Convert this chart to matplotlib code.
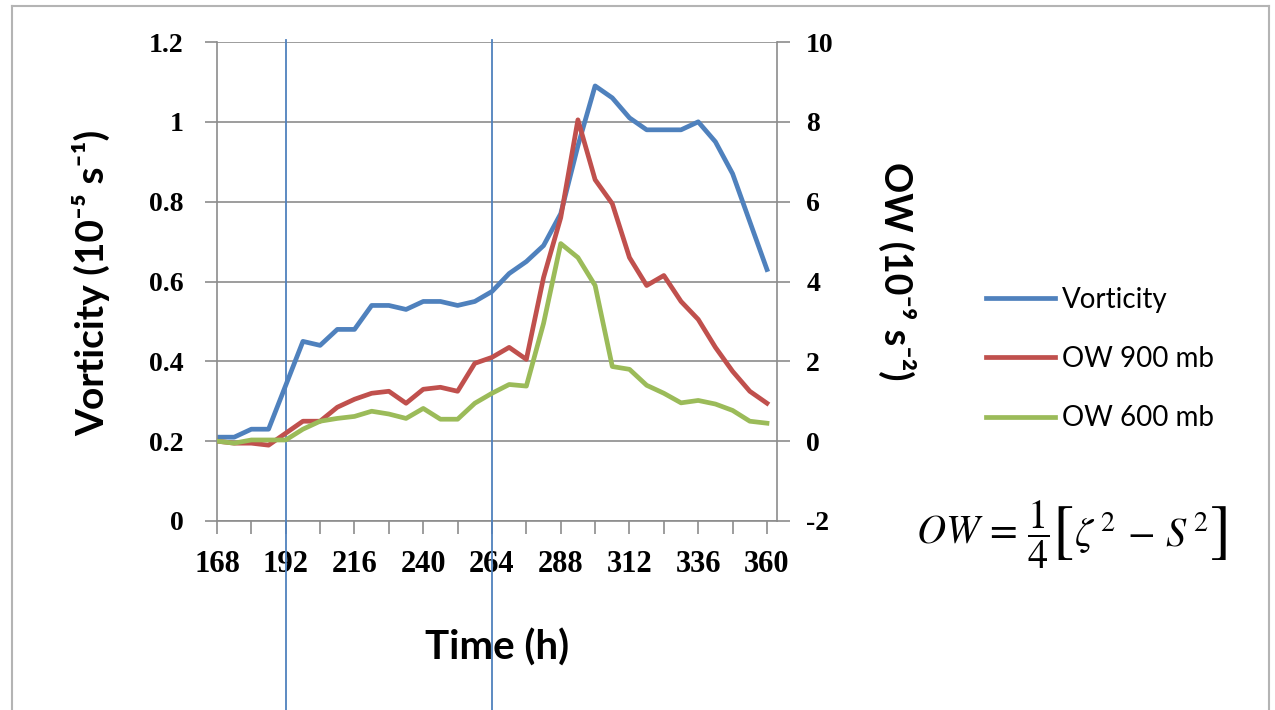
import matplotlib
matplotlib.use('Agg')
import matplotlib.pyplot as plt
from matplotlib.lines import Line2D

# data (6-hourly)
hours = list(range(168, 361, 6))
vorticity = [0.21, 0.21, 0.23, 0.23, 0.34, 0.45, 0.44, 0.48, 0.48, 0.54, 0.54,
             0.53, 0.55, 0.55, 0.54, 0.55, 0.575, 0.62, 0.65, 0.69, 0.77, 0.94,
             1.09, 1.06, 1.01, 0.98, 0.98, 0.98, 1.00, 0.95, 0.87, 0.75, 0.63]
ow_900 = [0.0, -0.05, -0.05, -0.1, 0.2, 0.5, 0.5, 0.85, 1.05, 1.2, 1.25,
          0.95, 1.3, 1.35, 1.25, 1.95, 2.1, 2.35, 2.05, 4.1, 5.6, 8.05,
          6.55, 5.95, 4.6, 3.9, 4.15, 3.5, 3.05, 2.35, 1.75, 1.25, 0.95]
ow_600 = [0.0, -0.05, 0.03, 0.03, 0.03, 0.3, 0.5, 0.57, 0.62, 0.75, 0.68,
          0.57, 0.82, 0.55, 0.55, 0.95, 1.2, 1.42, 1.38, 2.95, 4.95, 4.6,
          3.9, 1.87, 1.8, 1.4, 1.2, 0.96, 1.02, 0.93, 0.77, 0.5, 0.45]
marked_hours = [192, 264]
x_labels = list(range(168, 361, 24))
left_ticks = [0, 0.2, 0.4, 0.6, 0.8, 1, 1.2]
right_ticks = [-2, 0, 2, 4, 6, 8, 10]

BLUE = '#4F81BD'
RED = '#C0504D'
GREEN = '#9BBB59'
GRID = '#8C8C8C'
SANS = ['Lato', 'DejaVu Sans']
SERIF = 'Liberation Serif'

plt.rcParams['mathtext.fontset'] = 'stix'

fig = plt.figure(figsize=(12.75, 7.1), dpi=100)
ax = fig.add_axes([217 / 1275, 189 / 710, 560 / 1275, 479 / 710])
ax2 = ax.twinx()

ax.set_xlim(168, 363.5)
ax.set_ylim(0, 1.2)
ax2.set_ylim(-2, 10)

ax.set_yticks(left_ticks)
ax.set_yticklabels(['0', '0.2', '0.4', '0.6', '0.8', '1', '1.2'])
ax2.set_yticks(right_ticks)
ax2.set_yticklabels([str(v) for v in right_ticks])
ax.set_xticks(x_labels)
ax.set_xticklabels([str(v) for v in x_labels])
ax.set_xticks(list(range(180, 361, 24)), minor=True)

ax.grid(axis='y', color=GRID, lw=1.2)
ax.set_axisbelow(True)
for a in (ax, ax2):
    a.spines['top'].set_visible(False)
    for s in ('left', 'right', 'bottom'):
        a.spines[s].set_color(GRID)
        a.spines[s].set_linewidth(1.2)
ax.spines['right'].set_visible(False)
ax2.spines['left'].set_visible(False)
ax2.spines['bottom'].set_visible(False)

ax.tick_params(axis='y', direction='out', length=9, width=1.2, color=GRID,
               pad=15, labelsize=20)
ax.tick_params(axis='x', which='both', direction='out', length=9, width=1.2,
               color=GRID, pad=12, labelsize=22)
ax2.tick_params(axis='y', direction='out', length=9, width=1.2, color=GRID,
                pad=12, labelsize=20)
for lab in ax.get_yticklabels() + ax.get_xticklabels() + ax2.get_yticklabels():
    lab.set_family(SERIF)
    lab.set_fontweight('bold')

# lines: vorticity on the left axis, OW on the right axis
l1, = ax.plot(hours, vorticity, color=BLUE, lw=3.4, solid_joinstyle='round')
l2, = ax2.plot(hours, ow_900, color=RED, lw=3.4, solid_joinstyle='round')
l3, = ax2.plot(hours, ow_600, color=GREEN, lw=3.4, solid_joinstyle='round')

for h in marked_hours:
    ax.axvline(h, ymin=-0.395, ymax=1.004, color=BLUE, lw=1.3, clip_on=False,
               zorder=5)

fig.text(91 / 1275, 1 - 283 / 710, 'Vorticity (10⁻⁵ s⁻¹)', rotation=90,
         ha='center', va='center', fontsize=28, fontweight='bold', family=SANS)
fig.text(897 / 1275, 1 - 271 / 710, 'OW (10⁻⁹ s⁻²)', rotation=-90,
         ha='center', va='center', fontsize=27, fontweight='bold', family=SANS)
fig.text(497 / 1275, 1 - 648 / 710, 'Time (h)', ha='center', va='center',
         fontsize=29, fontweight='bold', family=SANS)

leg = fig.legend([l1, l2, l3], ['Vorticity', 'OW 900 mb', 'OW 600 mb'],
                 loc='center left', bbox_to_anchor=(986 / 1275, 1 - 359 / 710),
                 frameon=False, borderpad=0, borderaxespad=0,
                 handlelength=2.5, handletextpad=0.25, labelspacing=1.2,
                 prop={'family': SANS, 'size': 20})

# OW = 1/4 [zeta^2 - S^2], built from pieces so the brackets are tall
eq_y = 1 - 535 / 710
fig.text(1050 / 1275, eq_y, r'$OW\,=\,\dfrac{1}{4}$', ha='right', va='center',
         fontsize=29)
fig.text(1063 / 1275, eq_y, '[', ha='center', va='center', fontsize=46,
         family='STIXGeneral')
fig.text(1141 / 1275, eq_y + 0.004, r'$\zeta^{\,2}\,-\,S^{\,2}$', ha='center',
         va='center', fontsize=29)
fig.text(1221 / 1275, eq_y, ']', ha='center', va='center', fontsize=46,
         family='STIXGeneral')

# light frame round the chart
frame_kw = dict(color='#B4B4B4', lw=1.5, transform=fig.transFigure)
fig.add_artist(Line2D([12 / 1275, 1269 / 1275], [1 - 6 / 710, 1 - 6 / 710], **frame_kw))
fig.add_artist(Line2D([12 / 1275, 12 / 1275], [0, 1 - 6 / 710], **frame_kw))
fig.add_artist(Line2D([1269 / 1275, 1269 / 1275], [0, 1 - 6 / 710], **frame_kw))

fig.savefig('out.png', dpi=100)
